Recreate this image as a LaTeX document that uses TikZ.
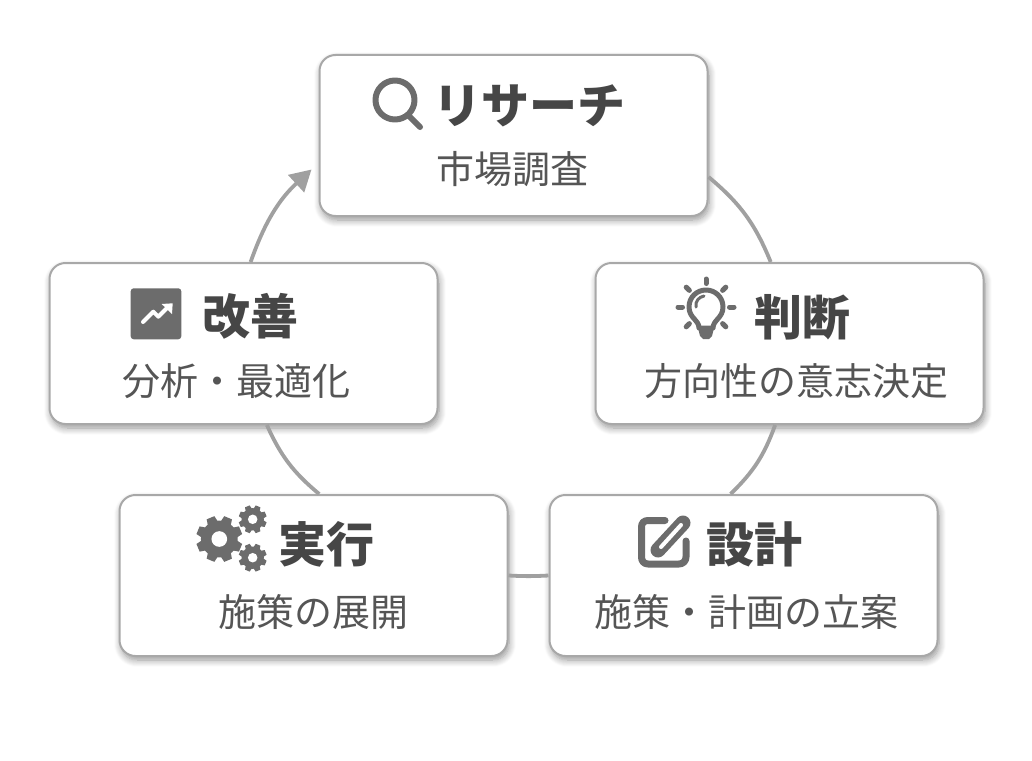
\documentclass[tikz,border=0pt]{standalone}
\usepackage{fontspec}
\setmainfont{Noto Sans CJK JP}
\usetikzlibrary{arrows.meta,shadows.blur}
\definecolor{boxline}{HTML}{A8A8A8}
\definecolor{flowline}{HTML}{A0A0A0}
\definecolor{icongray}{HTML}{6C6C6C}
\definecolor{headgray}{HTML}{464646}
\definecolor{subgray}{HTML}{555555}
\tikzset{
	stagebox/.style={draw=boxline, line width=2pt, fill=white, rounded corners=16pt, minimum width=388pt, minimum height=161pt, inner sep=0pt, blur shadow={shadow xshift=1.5pt, shadow yshift=-4pt, shadow blur steps=8, shadow blur radius=7pt, shadow opacity=42}},
	headtext/.style={text=headgray, inner sep=0pt, font=\fontsize{48}{48}\selectfont\bfseries},
	subtext/.style={text=subgray, inner sep=0pt, font=\fontsize{38}{38}\selectfont},
	flow/.style={draw=flowline, line width=3.8pt},
	iconline/.style={draw=icongray, line cap=round, line join=round},
	geardraw/.pic={
		\fill[icongray] (0,0) circle (0.8);
		\foreach \a in {0,45,...,315}
			\fill[icongray, rotate=\a+22.5] (-0.26,0.6) -- (-0.18,1) -- (0.18,1) -- (0.26,0.6) -- cycle;
		\fill[white] (0,0) circle (0.34);
	}
}
\begin{document}
\begin{tikzpicture}[x=1pt, y=-1pt]
	\useasboundingbox (0,0) rectangle (1032,760);

	% Connectors
	\coordinate (arrowtip) at (311.5,169.5);

	% Boxes
	\node[stagebox] (research) at (513.5,135.5) {};
	\node[stagebox] (judge) at (789.5,343.5) {};
	\node[stagebox] (design) at (743.5,575.5) {};
	\node[stagebox] (execute) at (313.5,575.5) {};
	\node[stagebox] (improve) at (243.5,343.5) {};

	\draw[flow] (research.-12.4) to[bend left=14] (judge.103.6);
	\draw[flow] (judge.-100) to[bend left=13] (design.99.5);
	\draw[flow] (design.180) to[bend left=3] (execute.0);
	\draw[flow] (execute.86) to[bend left=13] (improve.-74.7);
	\draw[flow, -{Triangle[length=21pt,width=23pt]}] (improve.85) to[bend left=14] (arrowtip);

	% research
	\node[headtext] (researchhead) at (529.5,106) {リサーチ};
	\node[subtext] (researchsub) at (512,169) {市場調査};
	\draw[iconline, line width=6pt] (395,100) circle (19.5);
	\draw[iconline, line width=6pt] (408,115) -- (420,127);

	% judge
	\node[headtext] (judgehead) at (802.5,317) {判断};
	\node[subtext] (judgesub) at (796,381) {方向性の意志決定};
	\draw[iconline, line width=5pt] (699,328) .. controls (699,320) and (689,318) .. (689,307) .. controls (689,297) and (697,290) .. (706,290) .. controls (715,290) and (723,297) .. (723,307) .. controls (723,318) and (713,320) .. (713,328) -- cycle;
	\fill[icongray] (698,328) -- (714,328) -- (712,336) -- (709,339) -- (703,339) -- (700,336) -- cycle;
	\draw[iconline, line width=3pt] (696,307) .. controls (695,301) and (699,297) .. (704,296);
	\foreach \a in {0,45,...,315}
		\draw[iconline, line width=5pt] (706,307) ++(\a:23.5) -- ++(\a:4.5);

	% design
	\node[headtext] (designhead) at (754,544) {設計};
	\node[subtext] (designsub) at (746,612) {施策・計画の立案};
	\draw[iconline, line width=7pt] (665,520.5) -- (648,520.5) .. controls (644,520.5) and (641.5,523) .. (641.5,527) -- (641.5,557) .. controls (641.5,561) and (644,564) .. (648,564) -- (679,564) .. controls (683,564) and (686,561) .. (686,557) -- (686,541);
	\draw[iconline, line width=15pt] (658,550) -- (683,523);
	\draw[white, line width=4pt, line cap=round] (661,547) -- (681,525);

	% execute
	\node[headtext] (executehead) at (326.5,544) {実行};
	\node[subtext] (executesub) at (313,612) {施策の展開};
	\path (219.3,539) pic[scale=23] {geardraw};
	\path (252.7,519.3) pic[scale=14] {geardraw};
	\path (252.7,557.7) pic[scale=14] {geardraw};

	% improve
	\node[headtext] (improvehead) at (250.5,316) {改善};
	\node[subtext] (improvesub) at (236.5,381) {分析・最適化};
	\fill[icongray, rounded corners=3pt] (130.7,288.3) rectangle (181.3,339.3);
	\draw[white, line width=4pt, line cap=round, line join=round] (143,322) -- (153.3,311.7) -- (158.3,316.7) -- (169,306);
	\fill[white] (161.7,304) -- (172.7,303.3) -- (172,314) -- cycle;
\end{tikzpicture}
\end{document}
